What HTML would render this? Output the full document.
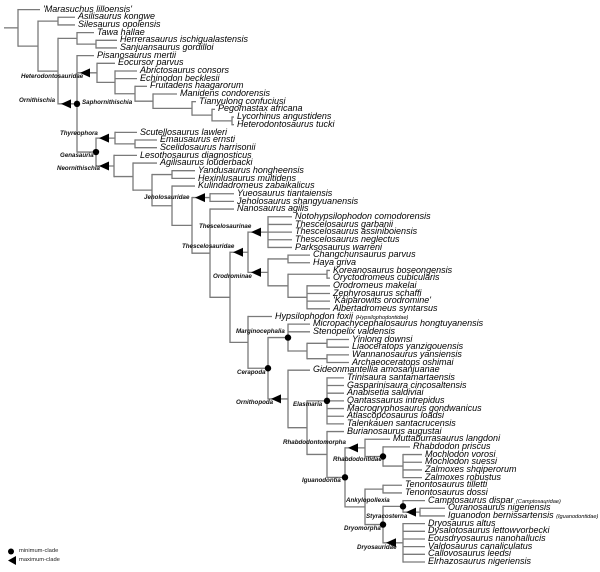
<!DOCTYPE html>
<html><head><meta charset="utf-8">
<style>
html,body{margin:0;padding:0;background:#fff;width:600px;height:572px;overflow:hidden;position:relative}
#leaves{position:absolute;left:0;top:5.76px;font-family:"Liberation Sans",sans-serif;font-style:italic;font-size:9px;color:#000}
#leaves div{height:7.672px;line-height:7.672px;white-space:nowrap}
#leaves small{font-size:5.6px;font-style:italic}
.lb{position:absolute;font-family:"Liberation Sans",sans-serif;font-style:italic;font-weight:bold;font-size:6.2px;color:#111;white-space:nowrap;line-height:7px}
.lg{position:absolute;font-family:"Liberation Sans",sans-serif;font-size:5.8px;color:#222;white-space:nowrap;line-height:7px}
svg{position:absolute;left:0;top:0}
</style></head><body>
<svg id="s" width="600" height="572"></svg>
<div id="leaves">
<div style="padding-left:43px">'Marasuchus lilloensis'</div>
<div style="padding-left:78px">Asilisaurus kongwe</div>
<div style="padding-left:78px">Silesaurus opolensis</div>
<div style="padding-left:97px">Tawa hallae</div>
<div style="padding-left:120px">Herrerasaurus ischigualastensis</div>
<div style="padding-left:120px">Sanjuansaurus gordilloi</div>
<div style="padding-left:97px">Pisanosaurus mertii</div>
<div style="padding-left:118px">Eocursor parvus</div>
<div style="padding-left:140px">Abrictosaurus consors</div>
<div style="padding-left:140px">Echinodon becklesii</div>
<div style="padding-left:150px">Fruitadens haagarorum</div>
<div style="padding-left:180px">Manidens condorensis</div>
<div style="padding-left:199px">Tianyulong confuciusi</div>
<div style="padding-left:218px">Pegomastax africana</div>
<div style="padding-left:237px">Lycorhinus angustidens</div>
<div style="padding-left:237px">Heterodontosaurus tucki</div>
<div style="padding-left:140px">Scutellosaurus lawleri</div>
<div style="padding-left:160px">Emausaurus ernsti</div>
<div style="padding-left:160px">Scelidosaurus harrisonii</div>
<div style="padding-left:140px">Lesothosaurus diagnosticus</div>
<div style="padding-left:160px">Agilisaurus louderbacki</div>
<div style="padding-left:198px">Yandusaurus hongheensis</div>
<div style="padding-left:198px">Hexinlusaurus multidens</div>
<div style="padding-left:198px">Kulindadromeus zabaikalicus</div>
<div style="padding-left:237px">Yueosaurus tiantaiensis</div>
<div style="padding-left:237px">Jeholosaurus shangyuanensis</div>
<div style="padding-left:237px">Nanosaurus agilis</div>
<div style="padding-left:295px">Notohypsilophodon comodorensis</div>
<div style="padding-left:295px">Thescelosaurus garbanii</div>
<div style="padding-left:295px">Thescelosaurus assiniboiensis</div>
<div style="padding-left:295px">Thescelosaurus neglectus</div>
<div style="padding-left:295px">Parksosaurus warreni</div>
<div style="padding-left:313px">Changchunsaurus parvus</div>
<div style="padding-left:313px">Haya griva</div>
<div style="padding-left:333px">Koreanosaurus boseongensis</div>
<div style="padding-left:333px">Oryctodromeus cubicularis</div>
<div style="padding-left:333px">Orodromeus makelai</div>
<div style="padding-left:333px">Zephyrosaurus schaffi</div>
<div style="padding-left:333px">'Kaiparowits orodromine'</div>
<div style="padding-left:333px">Albertadromeus syntarsus</div>
<div style="padding-left:275px">Hypsilophodon foxii <small>(Hypsilophodontidae)</small></div>
<div style="padding-left:313px">Micropachycephalosaurus hongtuyanensis</div>
<div style="padding-left:313px">Stenopelix valdensis</div>
<div style="padding-left:352px">Yinlong downsi</div>
<div style="padding-left:352px">Liaoceratops yanzigouensis</div>
<div style="padding-left:352px">Wannanosaurus yansiensis</div>
<div style="padding-left:352px">Archaeoceratops oshimai</div>
<div style="padding-left:313px">Gideonmantellia amosanjuanae</div>
<div style="padding-left:347px">Trinisaura santamartaensis</div>
<div style="padding-left:347px">Gasparinisaura cincosaltensis</div>
<div style="padding-left:347px">Anabisetia saldiviai</div>
<div style="padding-left:347px">Qantassaurus intrepidus</div>
<div style="padding-left:347px">Macrogryphosaurus gondwanicus</div>
<div style="padding-left:347px">Atlascopcosaurus loadsi</div>
<div style="padding-left:347px">Talenkauen santacrucensis</div>
<div style="padding-left:347px">Burianosaurus augustai</div>
<div style="padding-left:393px">Muttaburrasaurus langdoni</div>
<div style="padding-left:413px">Rhabdodon priscus</div>
<div style="padding-left:425px">Mochlodon vorosi</div>
<div style="padding-left:425px">Mochlodon suessi</div>
<div style="padding-left:425px">Zalmoxes shqiperorum</div>
<div style="padding-left:425px">Zalmoxes robustus</div>
<div style="padding-left:405px">Tenontosaurus tilletti</div>
<div style="padding-left:405px">Tenontosaurus dossi</div>
<div style="padding-left:428px">Camptosaurus dispar <small>(Camptosauridae)</small></div>
<div style="padding-left:448px">Ouranosaurus nigeriensis</div>
<div style="padding-left:448px">Iguanodon bernissartensis <small>(Iguanodontidae)</small></div>
<div style="padding-left:428px">Dryosaurus altus</div>
<div style="padding-left:428px">Dysalotosaurus lettowvorbecki</div>
<div style="padding-left:428px">Eousdryosaurus nanohallucis</div>
<div style="padding-left:428px">Valdosaurus canaliculatus</div>
<div style="padding-left:428px">Callovosaurus leedsi</div>
<div style="padding-left:428px">Elrhazosaurus nigeriensis</div>
</div>

<div class="lb" style="left:21px;top:73px">Heterodontosauridae</div>
<div class="lb" style="left:19px;top:97px">Ornithischia</div>
<div class="lb" style="left:82px;top:99px">Saphornithischia</div>
<div class="lb" style="left:60px;top:130px">Thyreophora</div>
<div class="lb" style="left:60px;top:152px">Genasauria</div>
<div class="lb" style="left:57px;top:165px">Neornithischia</div>
<div class="lb" style="left:144px;top:194px">Jeholosauridae</div>
<div class="lb" style="left:199px;top:223px">Thescelosaurinae</div>
<div class="lb" style="left:182px;top:243px">Thescelosauridae</div>
<div class="lb" style="left:213px;top:273px">Orodrominae</div>
<div class="lb" style="left:236px;top:328px">Marginocephalia</div>
<div class="lb" style="left:237px;top:369px">Cerapoda</div>
<div class="lb" style="left:236px;top:399px">Ornithopoda</div>
<div class="lb" style="left:293px;top:401px">Elasmaria</div>
<div class="lb" style="left:283px;top:439px">Rhabdodontomorpha</div>
<div class="lb" style="left:333px;top:456px">Rhabdodontidae</div>
<div class="lb" style="left:302px;top:477px">Iguanodontia</div>
<div class="lb" style="left:346px;top:497px">Ankylopollexia</div>
<div class="lb" style="left:366px;top:513px">Styracosterna</div>
<div class="lb" style="left:344px;top:525px">Dryomorpha</div>
<div class="lb" style="left:357px;top:544px">Dryosauridae</div>

<div class="lg" style="left:19px;top:548px">minimum-clade</div>
<div class="lg" style="left:19px;top:557px">maximum-clade</div>

<script>
var LX=[43,78,78,97,120,120,97,118,140,140,150,180,199,218,237,237,140,160,160,140,160,198,198,198,237,237,237,295,295,295,295,295,313,313,333,333,333,333,333,333,275,313,313,352,352,352,352,313,347,347,347,347,347,347,347,347,393,413,425,425,425,425,405,405,428,448,448,428,428,428,428,428,428];
function Y(i){return 9.6+7.672*i;}
function N(x,c,m){return {x:x,c:c,m:m};}
function R(a,b){var r=[];for(var i=a;i<=b;i++)r.push(i);return r;}
var HET=N(97,[7,N(115,[8,9,N(135,[10,N(153,[11,N(192,[12,N(212,[13,N(232,[14,15])])])])])])],'a');
var THY=N(115,[16,N(135,[17,18])],'a');
var JEH=N(210,[24,25],'a');
var THN=N(268,R(27,31),'a');
var ORO=N(268,[N(288,[32,33]),N(288,[N(327,[34,35]),N(307,R(36,39))])],'a');
var THESC=N(248,[THN,ORO],'a');
var MARG=N(288,[41,42,N(307,[N(327,[43,44]),N(327,[45,46])])],'d');
var ELAS=N(327,R(48,54),'d');
var RHD=N(383,[57,N(403,R(58,61))],'d');
var RHM=N(365,[56,RHD],'a');
var STY=N(420,[65,66],'a');
var ANK=N(403,[64,STY],'d');
var DRYD=N(403,R(67,72),'a');
var DRYM=N(383,[ANK,DRYD],'d');
var IGU=N(345,[RHM,N(365,[N(383,[62,63]),DRYM])],'d');
var ORN=N(288,[47,N(307,[ELAS,N(327,[55,IGU])])],'a');
var CER=N(268,[MARG,ORN],'d');
var NEO=N(114,[19,N(133,[20,N(152,[N(172,[21,22]),N(172,[23,N(192,[JEH,N(210,[26,N(230,[THESC,N(248,[40,CER])])])])])])])],'a');
var GEN=N(96,[THY,NEO],'d');
var SAPH=N(77,[6,HET,GEN],'d');
SAPH.m2='a';
var ROOT=N(18,[0,N(38,[N(58,[1,2]),N(58,[N(77,[3,N(96,[4,5])]),SAPH])])]);
var out=[],marks=[];
var C='#7a7a7a';
function L(x1,y1,x2,y2){out.push('<line x1="'+x1+'" y1="'+y1+'" x2="'+x2+'" y2="'+y2+'" stroke="'+C+'" stroke-width="1.3"/>');}
function lay(n){
  var ys=[];
  for(var k=0;k<n.c.length;k++){
    var ch=n.c[k];
    if(typeof ch==='number'){var y=Y(ch);ys.push(y);L(n.x,y,LX[ch]-3,y);}
    else{var y=lay(ch);ys.push(y);L(n.x,y,ch.x,y);
      if(ch.m==='a'||ch.m2==='a'){var t=n.x+3;marks.push('<polygon points="'+t+','+y+' '+(t+10)+','+(y-4.5)+' '+(t+10)+','+(y+4.5)+'" fill="#000"/>');}
    }
  }
  var a=Math.min.apply(null,ys),b=Math.max.apply(null,ys);
  L(n.x,a-0.65,n.x,b+0.65);
  var my=(ys[0]+ys[ys.length-1])/2;
  if(n.m==='d')marks.push('<circle cx="'+n.x+'" cy="'+my+'" r="3.2" fill="#000"/>');
  return my;
}
var ry=lay(ROOT);
L(4,ry,18,ry);
marks.push('<circle cx="11" cy="551.5" r="3" fill="#000"/>');
marks.push('<polygon points="8,560.5 16,556 16,565" fill="#000"/>');
document.getElementById('s').innerHTML=out.join('')+marks.join('');
</script>
</body></html>
